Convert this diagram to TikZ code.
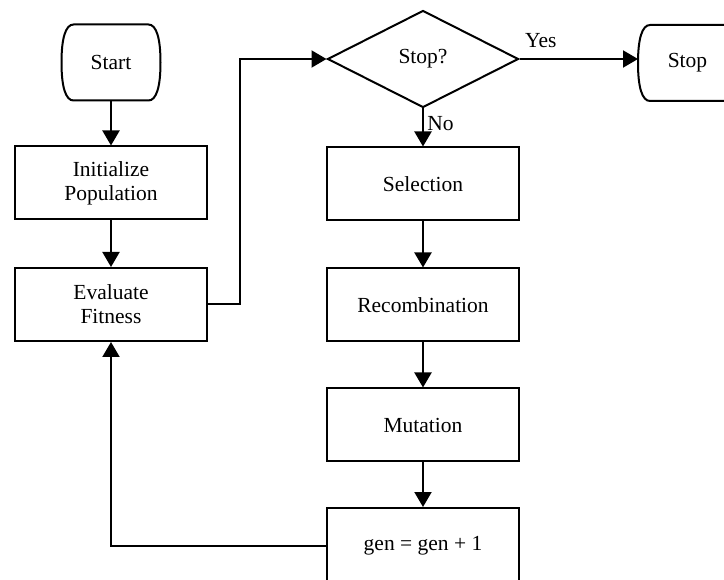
\documentclass[tikz,border=0pt]{standalone}
\usepackage{fontspec}
\setmainfont{Liberation Serif}
\usetikzlibrary{arrows.meta,shapes.geometric}

\begin{document}
\begin{tikzpicture}[x=1pt,y=-1pt,line width=2pt,
    >={Triangle[width=17pt,length=15pt]},
    font=\fontsize{21.5}{24}\selectfont]
\clip (0,0) rectangle (724,580);

\begin{scope}[every node/.style={minimum width=97pt,minimum height=74pt}]
    \node (start) at (111,62.5) {Start};
    \node (stop) at (687.5,63) {Stop};
\end{scope}

% terminal outlines, sides bulging
\foreach \t in {start,stop}
    \draw ([xshift=12pt]\t.north west) -- ([xshift=-12pt]\t.north east)
        .. controls ([xshift=-4pt]\t.north east) and ([yshift=24pt]\t.east) .. (\t.east)
        .. controls ([yshift=-24pt]\t.east) and ([xshift=-4pt]\t.south east) .. ([xshift=-12pt]\t.south east)
        -- ([xshift=12pt]\t.south west)
        .. controls ([xshift=4pt]\t.south west) and ([yshift=-24pt]\t.west) .. (\t.west)
        .. controls ([yshift=24pt]\t.west) and ([xshift=4pt]\t.north west) .. ([xshift=12pt]\t.north west)
        -- cycle;

\begin{scope}[every node/.style={draw,rectangle,align=center,minimum width=192pt,minimum height=73pt}]
    \node (init) at (111,183) {Initialize\\Population};
    \node (eval) at (111,304.5) {Evaluate\\Fitness};

    \node (sel) at (423,184) {Selection};
    \node (recomb) at (423,305) {Recombination};
    \node (mut) at (423,425) {Mutation};
    \node[minimum height=76pt] (gen) at (423,546) {gen = gen + 1};
\end{scope}

\node[draw,diamond,minimum width=191pt,minimum height=97pt,inner sep=0pt] (stopq) at (423,59) {Stop?};

\coordinate (up) at (240,59);

\begin{scope}[->]
    \draw (start) -- (init);
    \draw (init) -- (eval);
    \draw (eval.east) -| (up) -- (stopq.west);

    \draw (stopq.east) -- (stopq.east -| stop.west) node[pos=0.18,above=7pt] {Yes};
    \draw (stopq.south) -- (sel) node[pos=0.4,right] {No};

    \draw (sel) -- (recomb);
    \draw (recomb) -- (mut);
    \draw (mut) -- (gen);

    \draw (gen.west) -| (eval.south);
\end{scope}

\end{tikzpicture}
\end{document}
